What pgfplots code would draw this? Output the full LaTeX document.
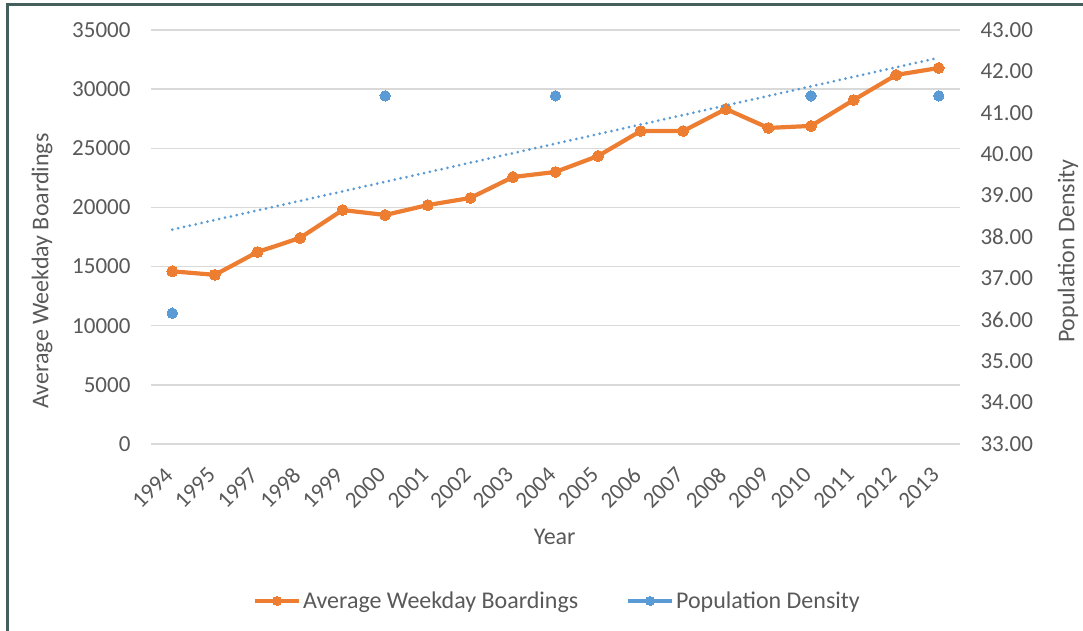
\documentclass[border=0pt]{standalone}
\usepackage{pgfplots}
\pgfplotsset{compat=1.18}
\usepackage{fontspec}
\setmainfont{Carlito}
\definecolor{org}{HTML}{ED7D31}
\definecolor{blu}{HTML}{5B9BD5}
\definecolor{txt}{HTML}{595959}
\definecolor{grd}{HTML}{D9D9D9}
\definecolor{frm}{HTML}{44605C}
\pgfplotsset{
  base/.style={
    scale only axis, width=809pt, height=414pt,
    xmin=-0.5, xmax=18.5,
    major tick length=0pt,
    tick label style={font=\fontsize{23}{27}\selectfont, text=txt},
    /pgf/number format/assume math mode=true,
  }
}
\begin{document}
\begin{tikzpicture}
\begin{axis}[base,
  ymin=0, ymax=35000, ytick={0,5000,...,35000},
  scaled y ticks=false,
  ymajorgrids, grid style={grd, line width=1.3pt},
  axis x line*=bottom, axis y line*=left,
  x axis line style={grd, line width=1.3pt, -},
  y axis line style={draw=none},
  xtick={0,...,18},
  xticklabels={1994,1995,1997,1998,1999,2000,2001,2002,2003,2004,2005,2006,2007,2008,2009,2010,2011,2012,2013},
  xticklabel style={xshift=-1pt, yshift=-25pt, rotate=45, anchor=east},
  /pgf/number format/1000 sep={},
  yticklabel style={xshift=-17pt},
  ylabel={Average Weekday Boardings},
  xlabel={Year},
  every axis y label/.style={at={(axis description cs:-0.1347,0.418)}, rotate=90, anchor=center, font=\fontsize{24}{28}\selectfont, text=txt},
  every axis x label/.style={at={(axis description cs:0.499,-0.225)}, anchor=center, font=\fontsize{24}{28}\selectfont, text=txt},
]
\addplot[org, line width=4.2pt, line join=round, mark=*, mark size=5.5pt, mark options={fill=org, draw=org, line width=0pt}]
coordinates {
(0,14600) (1,14300) (2,16230) (3,17420) (4,19780) (5,19360) (6,20200) (7,20800) (8,22570) (9,23000)
(10,24350) (11,26460) (12,26460) (13,28320) (14,26720) (15,26890) (16,29080) (17,31200) (18,31790)
};
\end{axis}
\begin{axis}[base,
  ymin=33, ymax=43, ytick={33,34,...,43},
  axis x line=none, axis y line*=right,
  y axis line style={draw=none},
  /pgf/number format/fixed, /pgf/number format/fixed zerofill, /pgf/number format/precision=2,
  yticklabel style={xshift=17pt},
  ylabel={Population Density},
  every axis y label/.style={at={(axis description cs:1.1335,0.466)}, rotate=90, anchor=center, font=\fontsize{24}{28}\selectfont, text=txt},
  legend style={at={(axis description cs:0.5025,-0.379)}, anchor=center, draw=none, fill=none,
    legend columns=2, font=\fontsize{24}{28}\selectfont, text=txt,
    /tikz/every even column/.append style={column sep=46pt}},
  legend image code/.code={\draw[mark repeat=2,mark phase=2,#1] plot coordinates {(0pt,0pt) (22pt,0pt) (44pt,0pt)};},
]
\addlegendimage{org, line width=4pt, mark=*, mark size=4.5pt, mark options={fill=org, draw=org, line width=0pt}}
\addlegendentry{Average Weekday Boardings}
\addlegendimage{blu, line width=4pt, mark=*, mark size=4.5pt, mark options={fill=blu, draw=blu, line width=0pt}}
\addlegendentry{Population Density}
\addplot[forget plot, blu, line width=3pt, line cap=round, dash pattern=on 0pt off 6pt]
coordinates {(0,38.18) (18,42.33)};
\addplot[forget plot, only marks, mark=*, mark size=5.2pt, mark options={fill=blu, draw=blu, line width=0pt}]
coordinates {(0,36.16) (5,41.41) (9,41.41) (15,41.41) (18,41.41)};
\end{axis}
\draw[frm, line width=3pt] (-143pt,-190pt) -- (-143pt,439pt) -- (935pt,439pt);
\pgfresetboundingbox
\path (-151pt,-187pt) rectangle (932pt,444pt);
\end{tikzpicture}
\end{document}
